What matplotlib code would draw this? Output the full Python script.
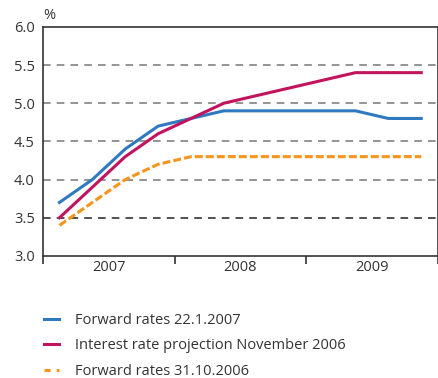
import matplotlib
matplotlib.use("Agg")
import matplotlib.pyplot as plt

plt.rcParams['font.family'] = ['Open Sans', 'DejaVu Sans']

# quarterly values 2007Q1 .. 2009Q4
quarters = list(range(12))
fwd_jan07 = [3.7, 4.0, 4.4, 4.7, 4.8, 4.9, 4.9, 4.9, 4.9, 4.9, 4.8, 4.8]
proj_nov06 = [3.5, 3.9, 4.3, 4.6, 4.8, 5.0, 5.1, 5.2, 5.3, 5.4, 5.4, 5.4]
fwd_oct06 = [3.4, 3.7, 4.0, 4.2, 4.3, 4.3, 4.3, 4.3, 4.3, 4.3, 4.3, 4.3]
years = ["2007", "2008", "2009"]
y_ticks = [3.0, 3.5, 4.0, 4.5, 5.0, 5.5, 6.0]

fig = plt.figure(figsize=(4.39, 3.78), dpi=100)
ax = fig.add_axes([0.098, 0.323, 0.899, 0.606])

# dashed gridlines
for y in y_ticks[1:-1]:
    col = "#222222" if y == 3.5 else "#777777"
    ax.axhline(y, color=col, lw=1.1, ls=(0, (5, 4)), zorder=1)

xs = [q + 0.5 for q in quarters]
ax.plot(xs, fwd_jan07, color="#2f79c0", lw=2.2, zorder=3,
        label="Forward rates 22.1.2007")
ax.plot(xs, proj_nov06, color="#c2135f", lw=2.2, zorder=4,
        label="Interest rate projection November 2006")
ax.plot(xs, fwd_oct06, color="#f7941d", lw=2.2, ls=(0, (2.6, 1.0)), zorder=2,
        label="Forward rates 31.10.2006")

ax.set_xlim(0, 12)
ax.set_ylim(3.0, 6.0)
ax.set_yticks(y_ticks)
ax.set_yticklabels(["%.1f" % y for y in y_ticks])
ax.tick_params(axis="y", length=0, pad=6, labelsize=10.5, colors="#333333")

ax.set_xticks([0, 4, 8, 12])
ax.set_xticklabels([])
ax.set_xticks([2, 6, 10], minor=True)
ax.set_xticklabels(years, minor=True)
ax.tick_params(axis="x", which="major", direction="out", length=6,
               width=1.2, color="#333333")
ax.tick_params(axis="x", which="minor", length=0, pad=3, labelsize=10.5,
               colors="#333333")

for s in ax.spines.values():
    s.set_color("#333333")
    s.set_linewidth(1.2)

fig.text(0.098, 0.958, "%", fontsize=10.5, color="#333333", ha="left",
         va="center")

leg = fig.legend(loc="upper left", bbox_to_anchor=(0.071, 0.206),
                 frameon=False, fontsize=10.5, handlelength=1.0,
                 handletextpad=1.1, labelspacing=0.7, labelcolor="#333333")
leg.legend_handles[2].set_linestyle((0, (2.0, 2.0)))

fig.savefig("out.png", dpi=100)
